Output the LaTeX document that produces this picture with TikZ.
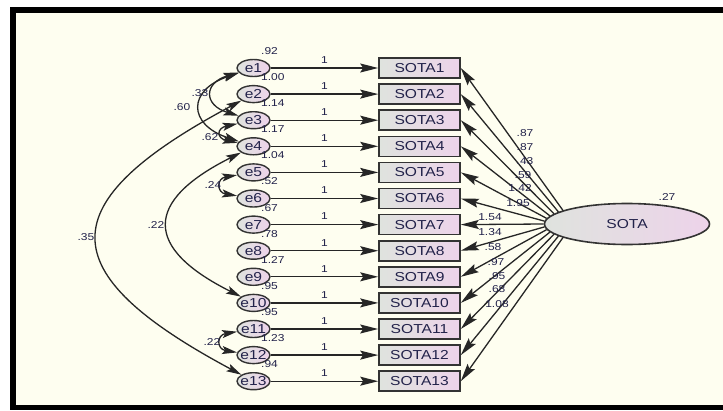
\documentclass[tikz,border=0pt]{standalone}
\usepackage{fontspec}
\setmainfont{Liberation Sans}[FakeStretch=1.2]
\usepackage{xcolor}
\usetikzlibrary{shapes.geometric, arrows.meta, positioning}
\definecolor{paper}{HTML}{FEFEF0}
\definecolor{shadeL}{HTML}{DFE3DE}
\definecolor{shadeR}{HTML}{EDD3EA}
\definecolor{rim}{HTML}{333333}
\definecolor{ink}{HTML}{22224A}
\tikzset{
    observed/.style = {rectangle, minimum width=81pt, minimum height=20pt, inner sep=0pt, draw=rim, line width=1.6pt, left color=shadeL, right color=shadeR, text=ink, font=\fontsize{13}{13}\selectfont},
    errvar/.style = {ellipse, minimum width=33pt, minimum height=17pt, inner xsep=-4pt, inner ysep=0pt, draw=rim, line width=1.4pt, left color=shadeL, right color=shadeR, text=ink, font=\fontsize{13}{13}\selectfont},
    latent/.style = {ellipse, minimum width=165pt, minimum height=41pt, inner sep=0pt, draw=rim, line width=1.6pt, left color=shadeL, right color=shadeR, text=ink, font=\fontsize{13}{13}\selectfont},
    est/.style = {inner sep=0pt, text=ink, font=\fontsize{10}{10}\selectfont},
    arrow/.style = {line width=1.3pt, draw=black!85, -{Stealth[length=18pt, width=9pt, inset=3pt]}},
    cov/.style = {line width=1.3pt, draw=black!85, {Stealth[length=15pt, width=8pt, inset=3pt]}-{Stealth[length=15pt, width=8pt, inset=3pt]}}
}
\begin{document}
\begin{tikzpicture}[x=1pt, y=1pt, node distance=26.1pt]

% frame
\useasboundingbox (0,0) rectangle (723,-410);
\fill[black] (10,-7) rectangle (723,-410);
\fill[paper] (16,-13) rectangle (723,-405);

% indicators
\node (s1) [observed] at (419.5,-68) {SOTA1};
\node (s2) [observed, below of=s1] {SOTA2};
\node (s3) [observed, below of=s2] {SOTA3};
\node (s4) [observed, below of=s3] {SOTA4};
\node (s5) [observed, below of=s4] {SOTA5};
\node (s6) [observed, below of=s5] {SOTA6};
\node (s7) [observed, below of=s6] {SOTA7};
\node (s8) [observed, below of=s7] {SOTA8};
\node (s9) [observed, below of=s8] {SOTA9};
\node (s10) [observed, below of=s9] {SOTA10};
\node (s11) [observed, below of=s10] {SOTA11};
\node (s12) [observed, below of=s11] {SOTA12};
\node (s13) [observed, below of=s12] {SOTA13};

% error terms
\node (e1) [errvar, left of=s1, node distance=166pt] {e1};
\node (e2) [errvar, left of=s2, node distance=166pt] {e2};
\node (e3) [errvar, left of=s3, node distance=166pt] {e3};
\node (e4) [errvar, left of=s4, node distance=166pt] {e4};
\node (e5) [errvar, left of=s5, node distance=166pt] {e5};
\node (e6) [errvar, left of=s6, node distance=166pt] {e6};
\node (e7) [errvar, left of=s7, node distance=166pt] {e7};
\node (e8) [errvar, left of=s8, node distance=166pt] {e8};
\node (e9) [errvar, left of=s9, node distance=166pt] {e9};
\node (e10) [errvar, left of=s10, node distance=166pt] {e10};
\node (e11) [errvar, left of=s11, node distance=166pt] {e11};
\node (e12) [errvar, left of=s12, node distance=166pt] {e12};
\node (e13) [errvar, left of=s13, node distance=166pt] {e13};

% factor
\node (sota) [latent] at (627,-224) {SOTA};
\node (vsota) [est] at (667,-197) {.27};

% error variances
\node (v1) [est, anchor=west] at (261,-51) {.92};
\node (v2) [est, anchor=west] at (261,-77.1) {1.00};
\node (v3) [est, anchor=west] at (261,-103.2) {1.14};
\node (v4) [est, anchor=west] at (261,-129.3) {1.17};
\node (v5) [est, anchor=west] at (261,-155.4) {1.04};
\node (v6) [est, anchor=west] at (261,-181.5) {.52};
\node (v7) [est, anchor=west] at (261,-207.6) {.67};
\node (v8) [est, anchor=west] at (261,-233.7) {.78};
\node (v9) [est, anchor=west] at (261,-259.8) {1.27};
\node (v10) [est, anchor=west] at (261,-285.9) {.95};
\node (v11) [est, anchor=west] at (261,-312) {.95};
\node (v12) [est, anchor=west] at (261,-338.1) {1.23};
\node (v13) [est, anchor=west] at (261,-364.2) {.94};

% error paths, fixed at 1
\draw [arrow] (e1) -- node[est, above=4pt] (w1) {1} (s1);
\draw [arrow] (e2) -- node[est, above=4pt] (w2) {1} (s2);
\draw [arrow] (e3) -- node[est, above=4pt] (w3) {1} (s3);
\draw [arrow] (e4) -- node[est, above=4pt] (w4) {1} (s4);
\draw [arrow] (e5) -- node[est, above=4pt] (w5) {1} (s5);
\draw [arrow] (e6) -- node[est, above=4pt] (w6) {1} (s6);
\draw [arrow] (e7) -- node[est, above=4pt] (w7) {1} (s7);
\draw [arrow] (e8) -- node[est, above=4pt] (w8) {1} (s8);
\draw [arrow] (e9) -- node[est, above=4pt] (w9) {1} (s9);
\draw [arrow] (e10) -- node[est, above=4pt] (w10) {1} (s10);
\draw [arrow] (e11) -- node[est, above=4pt] (w11) {1} (s11);
\draw [arrow] (e12) -- node[est, above=4pt] (w12) {1} (s12);
\draw [arrow] (e13) -- node[est, above=4pt] (w13) {1} (s13);

% loadings, fanning out of the left tip of the factor
\draw [arrow] (sota.168) -- (s1.east);
\draw [arrow] (sota.170) -- (s2.east);
\draw [arrow] (sota.172) -- (s3.east);
\draw [arrow] (sota.174) -- (s4.east);
\draw [arrow] (sota.176) -- (s5.east);
\draw [arrow] (sota.178) -- (s6.east);
\draw [arrow] (sota.180) -- (s7.east);
\draw [arrow] (sota.182) -- (s8.east);
\draw [arrow] (sota.184) -- (s9.east);
\draw [arrow] (sota.186) -- (s10.east);
\draw [arrow] (sota.188) -- (s11.east);
\draw [arrow] (sota.190) -- (s12.east);
\draw [arrow] (sota.192) -- (s13.east);
\node (l1) [est] at (525,-133) {.87};
\node (l2) [est] at (525,-147) {.87};
\node (l3) [est] at (525,-161) {.43};
\node (l4) [est] at (523,-175) {.59};
\node (l5) [est] at (520,-188) {1.42};
\node (l6) [est] at (518,-203) {1.95};
\node (l7) [est] at (490,-217) {1.54};
\node (l8) [est] at (490,-232) {1.34};
\node (l9) [est] at (493,-247) {.58};
\node (l10) [est] at (496,-262) {.97};
\node (l11) [est] at (497,-276) {.95};
\node (l12) [est] at (497,-289) {.68};
\node (l13) [est] at (497,-304) {1.08};

% covariances between error terms
\draw [cov] (e1) .. controls +(-50,-15) and +(-50,15) .. (e3);
\draw [cov] (e1) .. controls +(-66,-22) and +(-66,22) .. (e4);
\draw [cov] (e3) .. controls +(-37,-8) and +(-37,8) .. (e4);
\draw [cov] (e5) .. controls +(-37,-6) and +(-37,6) .. (e6);
\draw [cov] (e11) .. controls +(-37,-6) and +(-37,6) .. (e12);
\draw [cov] (e4) .. controls +(-110,-55) and +(-110,55) .. (e10);
\draw [cov] (e2) .. controls +(-204,-109) and +(-204,109) .. (e13);
\node (c13) [est] at (200,-93) {.33};
\node (c14) [est] at (182,-107) {.60};
\node (c34) [est] at (210,-137) {.62};
\node (c56) [est] at (213,-185) {.24};
\node (c410) [est] at (156,-225) {.22};
\node (c213) [est] at (86,-237) {.35};
\node (c1112) [est] at (212,-342) {.22};
\end{tikzpicture}
\end{document}
